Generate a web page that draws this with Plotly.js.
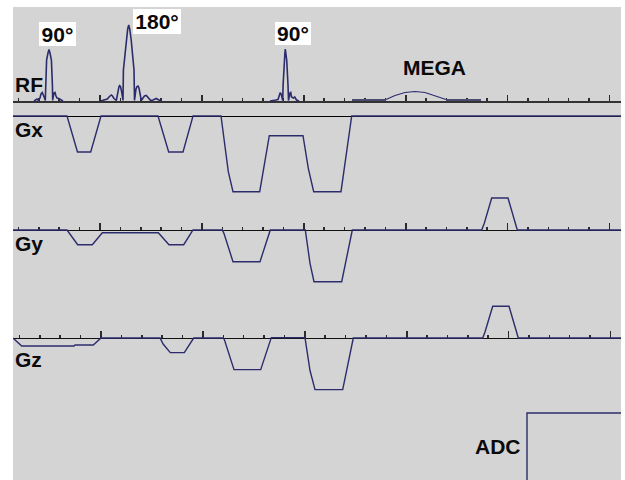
<!DOCTYPE html>
<html><head><meta charset="utf-8">
<script src="https://cdn.plot.ly/plotly-3.0.1.min.js"></script>
<style>html,body{margin:0;padding:0;background:#fff}#c{width:625px;height:480px}</style>
</head><body><div id="c"></div>
<script>
// Waveform values: t = time position, a = amplitude (null = gap between pulses)
const rfT = [34,36,37,38,39,40,41,42.3,43.5,44.5,45.3,45.6,46.6,48,49,50,51.4,52.4,52.7,53,54,55,56,57,58.3,60,63,null,
  100.7,105,107.3,109,110.5,111.3,112.5,114,116.3,117,118,119,119.7,120.5,121.5,122.5,123,123.4,124.9,126.2,127.7,128.7,129.7,131.2,132.5,134,134.5,135,136,137,138,139,140,141.3,143,144.5,146.3,148,150.7,153,155,156.3,158,160.7,null,
  270,273.5,276,278,279,280.3,281.5,282.3,282.7,283.1,284.1,284.9,285.3,285.7,286.7,288,288.5,288.9,290,290.7,291.5,292.5,293.5,294.7,296.5,299];
const rfA = [0,1.5,2,1,1.5,3,7,8.5,6,3,0.5,16,41,48,51.5,48,41,16,0.5,3,8,8.5,5,3,2.7,1.5,0,null,
  0,1,2,4,5.5,6,5,2.5,0.5,5,11,14.5,15.5,14.5,10,3,0.5,31,48,61,72,76,72,61,48,31,0.5,6,12,14.5,15,13,8,0.5,3,5,5.5,3.5,0.5,1,2,2.5,1.5,0,null,
  0,1,1,1.5,5,8.5,6,1,0.5,16,41,48,52,48,41,16,0.5,3,8,8.5,4,3,3,4,1,0];
const megaT = [386,395,405,415,425,435,446];
const megaA = [1.5,5.5,8.5,9.5,8.5,5.5,1.5];
const megaFlankStart = [352,386];
const megaFlankEnd = [446,481];
const megaFlankLevel = [1,1];
const gxT = [13,67,77.5,90.7,101,158,168.7,183,193,221,228.3,233,259.7,269.3,303,308.3,313.7,341,351.7,621];
const gxA = [0,0,-36,-36,0,0,-36,-36,0,0,-55.7,-75.7,-75.7,-19.7,-19.7,-52.3,-75.7,-75.7,0,0];
const gyT = [13,67,77.7,92.3,102.3,158.3,169,183.7,193,222.3,224,233,260,270.3,305.3,310,314,341.7,352.3,481.7,484.3,491.7,508,516.7,517.3,621];
const gyA = [0,0,-14.7,-14.7,-2.7,-2.7,-14.7,-14.7,0,0,-3.5,-31.7,-31.7,0,0,-33.3,-51.7,-51.7,0,0,6.7,32,32,3.3,0,0];
const gzT = [13,14,21.7,74,75,93.3,101,160,163.3,170.3,184.3,193.7,223.3,224.5,234,260.7,271.3,305,310,315,342.7,353.3,482.7,485,492.7,509,517.7,518.3,621];
const gzA = [0,-1,-8,-8,-7,-7,0,0,-6.3,-14.6,-14.6,0,0,-2,-31.6,-31.6,0.4,0.4,-32.5,-51.6,-51.6,0,0,6,31.7,31.7,2.7,0,0];
const adcT = [527,527,621];
const adcA = [0,67,67];
const majorTick0 = [100,100,101];
const minorTick = 20.38;
const labels = ["RF","Gx","Gy","Gz","ADC","MEGA"];
const pulseLabels = ["90°","180°","90°"];

const W=625,H=480,L=13,R=621,T=7;
const NAVY='#2c2c6c';
function fy(p){return 1-p/H;}
function pan(top,base,bot){return {domain:[fy(bot),fy(top)],range:[base-bot,base-top],visible:false,fixedrange:true};}
function xax(base,tick,lc,lw,tick0,tl){
  const o={domain:[L/W,R/W],range:[L,R],anchor:'free',position:fy(base),showgrid:false,zeroline:false,
    showticklabels:false,showline:true,linecolor:lc,linewidth:lw,fixedrange:true,layer:'below traces'};
  if(tick){Object.assign(o,{ticks:'inside',tick0:tick0,dtick:101.9,ticklen:tl,tickwidth:1.6,tickcolor:'#2a2a2a',
    minor:{ticks:'inside',tick0:tick0,dtick:minorTick,ticklen:3,tickwidth:1.5,tickcolor:'#2a2a2a',showgrid:false}});}
  else o.ticks='';
  return o;
}
function tr(x,y,n,w,c){return {x:x,y:y,xaxis:'x'+(n>1?n:''),yaxis:'y'+(n>1?n:''),mode:'lines',hoverinfo:'skip',connectgaps:false,
  line:{color:c||NAVY,width:w||1.4,shape:'linear'},showlegend:false};}
const data=[
  tr(rfT,rfA,1,1.6),
  tr(megaT,megaA,1,1.2),
  tr(megaFlankStart,megaFlankLevel,1,2.2,'#4c4c72'),
  tr(megaFlankEnd,megaFlankLevel,1,2.2,'#4c4c72'),
  tr(gxT,gxA,2,1.4),
  tr(gyT,gyA,3,1.4),
  tr(gzT,gzA,4,1.4),
  tr(adcT,adcA,5,1.4)
];
function lab(t,cx,cy,sz){return {text:'<b>'+t+'</b>',xref:'paper',yref:'paper',x:cx/W,y:fy(cy),xanchor:'center',yanchor:'middle',showarrow:false,
  font:{family:'Liberation Sans',size:sz||21,color:'#0a0a0a'}};}
function box(t,x0,x1,y0,y1){return Object.assign(lab(t,(x0+x1)/2,(y0+y1)/2,21),{bgcolor:'#fff',width:x1-x0,height:y1-y0,borderpad:0,borderwidth:0,align:'center',valign:'middle'});}
const layout={width:W,height:H,margin:{l:0,r:0,t:0,b:0},paper_bgcolor:'#fff',plot_bgcolor:'rgba(0,0,0,0)',showlegend:false,
  shapes:[{type:'rect',xref:'paper',yref:'paper',x0:L/W,x1:R/W,y0:0,y1:fy(T),fillcolor:'#d4d4d4',line:{width:0},layer:'below'}],
  xaxis:xax(100.8,true,'#333',1.8,majorTick0[0],6),
  xaxis2:xax(116,false,'#000',1.2),
  xaxis3:xax(230,true,'#111',1.2,majorTick0[1],7),
  xaxis4:xax(338,true,'#111',1.2,majorTick0[2],7),
  xaxis5:Object.assign(xax(479,false,'#000',0),{showline:false}),
  yaxis:pan(T,101,106),
  yaxis2:pan(110,116,200),
  yaxis3:pan(190,230,290),
  yaxis4:pan(298,338,396),
  yaxis5:pan(405,480,480),
  annotations:[
    box(pulseLabels[0],39,76,22,46),
    box(pulseLabels[1],133,181,9,34),
    box(pulseLabels[2],275,311,22,45),
    lab(labels[0],29,84),
    lab(labels[1],29,129),
    lab(labels[2],29,243),
    lab(labels[3],28.5,359),
    lab(labels[4],498,446),
    lab(labels[5],435,68)
  ]};
Plotly.newPlot('c',data,layout,{displayModeBar:false,staticPlot:true});
</script></body></html>
